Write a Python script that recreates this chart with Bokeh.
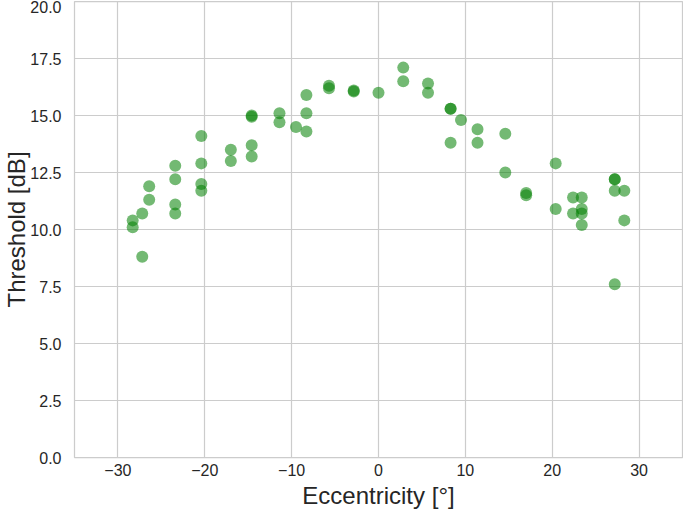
from bokeh.plotting import figure
from bokeh.models import FixedTicker, Range1d
from bokeh.embed import file_html
from bokeh.resources import INLINE

# Eccentricity (deg) and threshold (dB)
eccentricity = [
    -28.3, -28.3, -27.2, -27.2, -26.4, -26.4,
    -23.4, -23.4, -23.4, -23.4,
    -20.4, -20.4, -20.4, -20.4,
    -17.0, -17.0,
    -14.6, -14.6, -14.6, -14.6,
    -11.4, -11.4, -9.5,
    -8.3, -8.3, -8.3,
    -5.7, -5.7, -2.85, -2.85, 0.0,
    2.85, 2.85, 5.7, 5.7,
    8.3, 8.3, 8.3, 9.5,
    11.4, 11.4, 14.6, 14.6,
    17.0, 17.0, 20.4, 20.4,
    22.4, 22.4, 23.4, 23.4, 23.4, 23.4,
    27.2, 27.2, 27.2, 27.2, 28.3, 28.3,
]
threshold = [
    10.4, 10.1, 10.7, 8.8, 11.9, 11.3,
    12.8, 12.2, 11.1, 10.7,
    14.1, 12.9, 12.0, 11.7,
    13.5, 13.0,
    15.0, 14.95, 13.7, 13.2,
    15.1, 14.7, 14.5,
    15.9, 15.1, 14.3,
    16.3, 16.2, 16.1, 16.05, 16.0,
    17.1, 16.5, 16.4, 16.0,
    15.3, 15.3, 13.8, 14.8,
    14.4, 13.8, 14.2, 12.5,
    11.6, 11.5, 12.9, 10.9,
    11.4, 10.7, 11.4, 10.9, 10.7, 10.2,
    12.2, 12.2, 11.7, 7.6, 11.7, 10.4,
]

x_ticks = [-30, -20, -10, 0, 10, 20, 30]
x_tick_labels = ["\u221230", "\u221220", "\u221210", "0", "10", "20", "30"]
y_ticks = [0, 2.5, 5, 7.5, 10, 12.5, 15, 17.5, 20]
y_tick_labels = ["0.0", "2.5", "5.0", "7.5", "10.0", "12.5", "15.0", "17.5", "20.0"]

FONT = "Liberation Sans"
TEXT = "#262626"
GRID = "#cccccc"

p = figure(width=683, height=516, output_backend="svg", toolbar_location=None,
           x_range=Range1d(-35, 35), y_range=Range1d(0, 20),
           min_border_left=0, min_border_right=1, min_border_top=1, min_border_bottom=59)

p.scatter(eccentricity, threshold, size=12, fill_color="green", fill_alpha=0.55,
          line_color=None)

p.outline_line_color = GRID
p.outline_line_width = 1.25
p.background_fill_color = "white"
p.border_fill_color = "white"

for g in (p.xgrid[0], p.ygrid[0]):
    g.grid_line_color = GRID
    g.grid_line_width = 1.2

p.xaxis.ticker = FixedTicker(ticks=x_ticks)
p.xaxis.major_label_overrides = {t: l for t, l in zip(x_ticks, x_tick_labels)}
p.yaxis.ticker = FixedTicker(ticks=y_ticks)
p.yaxis.major_label_overrides = {t: l for t, l in zip(y_ticks, y_tick_labels)}

for ax in (p.xaxis[0], p.yaxis[0]):
    ax.axis_line_color = None
    ax.major_tick_line_color = None
    ax.minor_tick_line_color = None
    ax.major_tick_out = 0
    ax.major_tick_in = 0
    ax.minor_tick_out = 0
    ax.major_label_text_font = FONT
    ax.major_label_text_font_size = "16px"
    ax.major_label_text_color = TEXT
    ax.axis_label_text_font = FONT
    ax.axis_label_text_font_size = "24px"
    ax.axis_label_text_font_style = "normal"
    ax.axis_label_text_color = TEXT

p.xaxis.axis_label = "Eccentricity [°]"
p.yaxis.axis_label = "Threshold [dB]"
p.xaxis.major_label_standoff = 6
p.yaxis.major_label_standoff = 13
p.xaxis.axis_label_standoff = 3
p.yaxis.axis_label_standoff = -3

open("out.html", "w").write(file_html(p, INLINE))
